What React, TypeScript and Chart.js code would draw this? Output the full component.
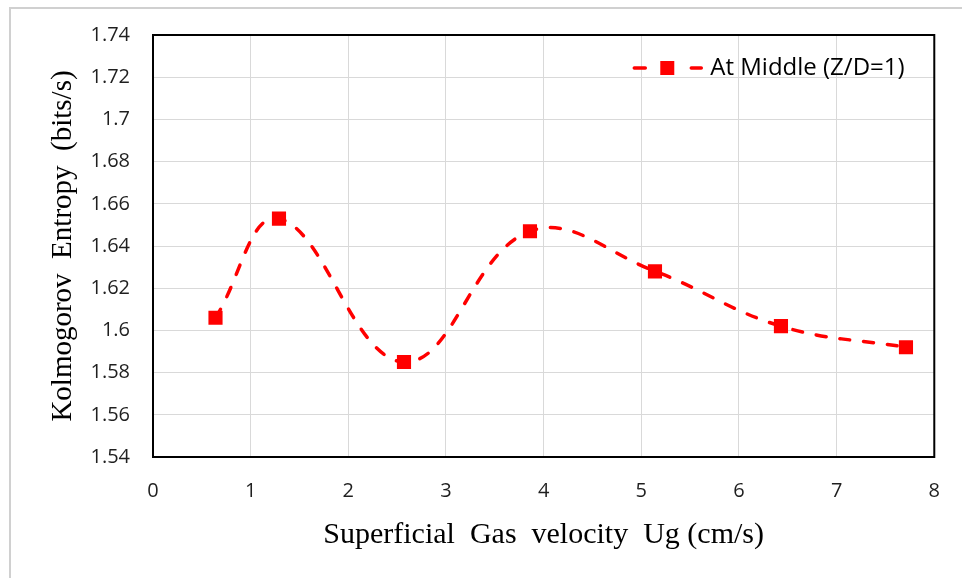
import React, { useEffect, useRef } from "react";
import { Chart, registerables } from "chart.js";

Chart.register(...registerables);

// ---- data ----
const ugValues = [0.64, 1.29, 2.57, 3.86, 5.14, 6.43, 7.71];
const entropyValues = [1.606, 1.653, 1.585, 1.647, 1.628, 1.602, 1.592];
const seriesLabel = "At Middle (Z/D=1)";
const xTitle = "Superficial  Gas  velocity  Ug (cm/s)";
const yTitle = "Kolmogorov  Entropy  (bits/s)";
const xMin = 0;
const xMax = 8;
const xStep = 1;
const yMin = 1.54;
const yMax = 1.74;
const yStep = 0.02;

const RED = "#ff0000";
const TICK_FONT = "'Open Sans', 'Liberation Sans', sans-serif";
const TITLE_FONT = "'Liberation Serif', 'Times New Roman', serif";

const framePlugin = {
  id: "frameAndLegend",
  beforeDatasetsDraw(chart: any) {
    const { ctx, chartArea } = chart;
    ctx.save();
    // outer light frame
    ctx.strokeStyle = "#d0d0d0";
    ctx.lineWidth = 2;
    ctx.beginPath();
    ctx.moveTo(10, chart.height);
    ctx.lineTo(10, 8);
    ctx.lineTo(chart.width, 8);
    ctx.stroke();
    // plot border
    ctx.strokeStyle = "#000000";
    ctx.lineWidth = 2;
    ctx.strokeRect(
      chartArea.left,
      chartArea.top,
      chartArea.right - chartArea.left,
      chartArea.bottom - chartArea.top
    );
    ctx.restore();
  },
  afterDraw(chart: any) {
    const { ctx, chartArea } = chart;
    const lx = chartArea.right - 302;
    const ly = chartArea.top + 33;
    ctx.save();
    ctx.strokeStyle = RED;
    ctx.lineWidth = 3.5;
    ctx.lineCap = "round";
    ctx.beginPath();
    ctx.moveTo(lx + 2, ly);
    ctx.lineTo(lx + 13, ly);
    ctx.moveTo(lx + 59, ly);
    ctx.lineTo(lx + 69, ly);
    ctx.stroke();
    ctx.fillStyle = RED;
    ctx.fillRect(lx + 28, ly - 7, 14, 14);
    ctx.fillStyle = "#000000";
    ctx.font = `24px ${TICK_FONT}`;
    ctx.textAlign = "left";
    ctx.textBaseline = "middle";
    ctx.fillText(seriesLabel, lx + 78, ly);
    ctx.restore();
  },
};

export default function App() {
  const canvasRef = useRef<HTMLCanvasElement | null>(null);

  useEffect(() => {
    const canvas = canvasRef.current;
    if (!canvas) return;
    const chart = new Chart(canvas, {
      type: "line",
      data: {
        datasets: [
          {
            label: seriesLabel,
            data: ugValues.map((x, i) => ({ x, y: entropyValues[i] })),
            borderColor: RED,
            backgroundColor: RED,
            borderWidth: 3.5,
            borderDash: [10, 14],
            borderCapStyle: "round",
            tension: 0.4,
            fill: false,
            pointStyle: "rect",
            pointRadius: 10,
            pointBackgroundColor: RED,
            pointBorderColor: RED,
            pointBorderWidth: 0,
          },
        ],
      },
      options: {
        animation: false,
        responsive: false,
        devicePixelRatio: 1,
        layout: { padding: { left: 0, top: 34, right: 25, bottom: 0 } },
        plugins: {
          legend: { display: false },
          tooltip: { enabled: false },
        },
        scales: {
          x: {
            type: "linear",
            min: xMin,
            max: xMax,
            afterFit: (scale: any) => {
              scale.height = 121;
            },
            ticks: {
              stepSize: xStep,
              color: "#1f1f1f",
              padding: 22,
              font: { family: TICK_FONT, size: 20 },
            },
            grid: { color: "#d9d9d9", lineWidth: 1, drawTicks: false },
            border: { display: false },
            title: {
              display: true,
              text: xTitle,
              color: "#000000",
              font: { family: TITLE_FONT, size: 30 },
              padding: { top: 0, bottom: 25 },
            },
          },
          y: {
            type: "linear",
            min: yMin,
            max: yMax,
            afterFit: (scale: any) => {
              scale.width = 153;
            },
            ticks: {
              stepSize: yStep,
              color: "#1f1f1f",
              padding: 23,
              font: { family: TICK_FONT, size: 20 },
              callback: (v: any) => String(Number(Number(v).toFixed(2))),
            },
            grid: { color: "#d9d9d9", lineWidth: 1, drawTicks: false },
            border: { display: false },
            title: {
              display: true,
              text: yTitle,
              color: "#000000",
              font: { family: TITLE_FONT, size: 29 },
              padding: { top: 46, bottom: 0 },
            },
          },
        },
      },
      plugins: [framePlugin],
    } as any);
    return () => chart.destroy();
  }, []);

  return (
    <div style={{ position: "absolute", left: 0, top: 0, width: 962, height: 578, background: "#ffffff" }}>
      <canvas ref={canvasRef} width={962} height={578} style={{ width: 962, height: 578, display: "block" }} />
    </div>
  );
}
